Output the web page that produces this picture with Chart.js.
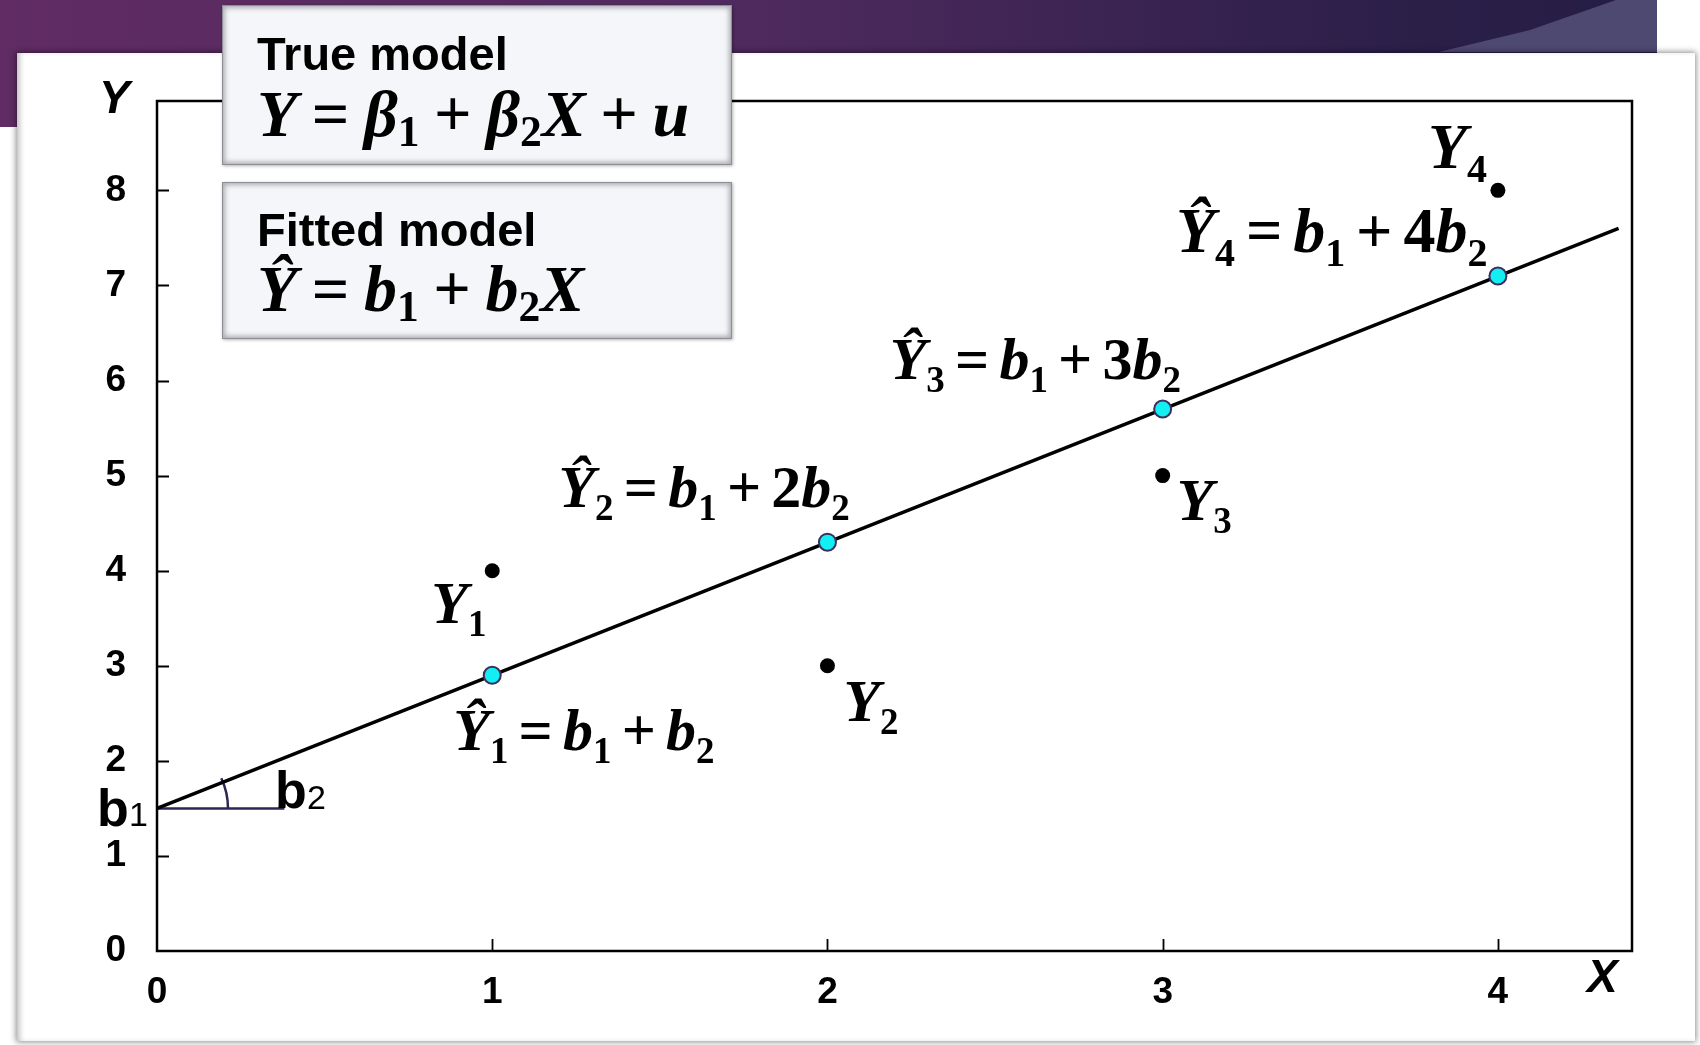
<!DOCTYPE html>
<html>
<head>
<meta charset="utf-8">
<title>Fitted regression line</title>
<script src="https://cdn.jsdelivr.net/npm/chart.js@4.4.0/dist/chart.umd.min.js"></script>
<style>
  html, body { margin: 0; padding: 0; width: 1700px; height: 1045px; overflow: hidden; background: #fff; }
  #band { position: absolute; left: 0; top: 0; width: 1657px; height: 127px;
          background: linear-gradient(90deg, #602c63 0%, #4f2a5e 45%, #2b1f48 85%, #251d44 100%); }
  #wedge { position: absolute; left: 1420px; top: 0; width: 237px; height: 52px; background: #4e4970;
           clip-path: polygon(19px 52px, 237px 52px, 237px 0, 196px 0, 110px 30px); }
  #panel { position: absolute; left: 17px; top: 53px; width: 1678px; height: 988px; background: #fff;
           box-shadow: 0 0 6px 1px rgba(0,0,0,0.45), inset 5px 0 6px -3px rgba(0,0,0,0.3); }
  #chart { position: absolute; left: 0; top: 0; }
  .box { position: absolute; left: 222px; width: 510px; background: #f5f6f9; box-sizing: border-box;
         border: 1px solid #8d8f95;
         box-shadow: inset 0 0 5px 2px rgba(110,112,120,0.55), 1px 1px 3px rgba(0,0,0,0.3); }
  .txt { position: absolute; left: 34px; line-height: 1; white-space: nowrap; color: #000; }
  .head { font: bold 47px "Liberation Sans", Arial, sans-serif; }
  .eq { font: bold italic 66px "Liberation Serif", "Times New Roman", serif; }
  .eq .up { font-style: normal; }
  .eq .sub { font-style: normal; font-size: 0.66em; vertical-align: -0.24em; line-height: 1; }
  .eq .op { font-style: normal; padding: 0 0.22em; }
</style>
</head>
<body>
<div id="band"></div>
<div id="wedge"></div>
<div id="panel"></div>
<canvas id="chart" width="1700" height="1045"></canvas>
<div class="box" style="top:5px; height:160px;">
  <div class="txt head" style="top:20px;">True model</div>
  <div class="txt eq" id="trueEq" style="top:70px;"></div>
</div>
<div class="box" style="top:182px; height:157px;">
  <div class="txt head" style="top:19px;">Fitted model</div>
  <div class="txt eq" id="fitEq" style="top:68px;"></div>
</div>
<script>
// axis ticks
const xTicks = [0, 1, 2, 3, 4];
const yTicks = [0, 1, 2, 3, 4, 5, 6, 7, 8];

// observations
const xObs = [1, 2, 3, 4];
const yObs = [4, 3, 5, 8];

// fitted values on the regression line
const yFitted = [2.9, 4.3, 5.7, 7.1];

// regression line: intercept b1 and the far end of the drawn segment
const b1 = 1.5;
const lineX = [0, 4.36];
const lineY = [1.5, 7.6];
const slopeMarkX = [0, 0.38];

// equation text, "_" marks a subscript
const trueModel = 'Y = β_1 + β_2X + u';
const fittedModel = 'Ŷ = b_1 + b_2X';
const fittedLabels = ['Ŷ_1 = b_1 + b_2', 'Ŷ_2 = b_1 + 2b_2', 'Ŷ_3 = b_1 + 3b_2', 'Ŷ_4 = b_1 + 4b_2'];
const obsLabels = ['Y_1', 'Y_2', 'Y_3', 'Y_4'];

// label placement relative to their points: [dx, dy, font size]
const fittedPlace = [[-39, 75, 60], [-269, -35, 60], [-273, -30, 60], [-322, -24, 64]];
const obsPlace = [[-61, 52, 60], [16, 55, 60], [14, 44, 60], [-70, -22, 64]];

const serif = '"Liberation Serif", "Times New Roman", serif';
const sans = '"Liberation Sans", Arial, sans-serif';

function tokens(s) {
  const out = [];
  for (let i = 0; i < s.length; i++) {
    const c = s[i];
    if (c === ' ') continue;
    if (c === '_') { out.push(['sub', s[++i]]); continue; }
    if (c === '=' || c === '+') out.push(['op', c]);
    else if (/[0-9]/.test(c)) out.push(['up', c]);
    else out.push(['it', c]);
  }
  return out;
}

function toHtml(s) {
  return tokens(s).map(([k, c]) => k === 'it' ? c : `<span class="${k}">${c}</span>`).join('');
}

document.getElementById('trueEq').innerHTML = toHtml(trueModel);
document.getElementById('fitEq').innerHTML = toHtml(fittedModel);

function drawEq(ctx, s, x, y, size) {
  let cx = x;
  tokens(s).forEach(([k, c]) => {
    let font = `bold italic ${size}px ${serif}`, dy = 0, pad = 0;
    if (k === 'up') font = `bold ${size}px ${serif}`;
    if (k === 'op') { font = `bold ${size}px ${serif}`; pad = size * 0.17; }
    if (k === 'sub') { font = `bold ${Math.round(size * 0.62)}px ${serif}`; dy = size * 0.22; }
    ctx.font = font;
    cx += pad;
    ctx.fillText(c, cx, y + dy);
    cx += ctx.measureText(c).width + pad;
  });
}

const decor = {
  id: 'decor',
  beforeDatasetsDraw(chart) {
    const { ctx, chartArea: a, scales: { x, y } } = chart;
    ctx.save();
    ctx.strokeStyle = '#000';
    ctx.lineWidth = 2.5;
    ctx.strokeRect(a.left, a.top, a.right - a.left, a.bottom - a.top);
    ctx.lineWidth = 1.8;
    ctx.beginPath();
    yTicks.slice(1).forEach(v => {
      const py = Math.round(y.getPixelForValue(v)) + 0.5;
      ctx.moveTo(a.left, py); ctx.lineTo(a.left + 12, py);
    });
    xTicks.slice(1).forEach(v => {
      const px = Math.round(x.getPixelForValue(v)) + 0.5;
      ctx.moveTo(px, a.bottom); ctx.lineTo(px, a.bottom - 12);
    });
    ctx.stroke();

    // slope angle arc at the intercept
    const ox = x.getPixelForValue(0), oy = y.getPixelForValue(b1);
    const ex = x.getPixelForValue(lineX[1]), ey = y.getPixelForValue(lineY[1]);
    const ang = Math.atan2(oy - ey, ex - ox);
    ctx.strokeStyle = '#2c2650';
    ctx.lineWidth = 2.5;
    ctx.beginPath();
    ctx.arc(ox, oy, 71, -ang - 0.06, 0);
    ctx.stroke();
    ctx.restore();
  },
  afterDatasetsDraw(chart) {
    const { ctx, chartArea: a, scales: { x, y } } = chart;
    ctx.save();
    ctx.fillStyle = '#000';
    ctx.textBaseline = 'alphabetic';
    ctx.textAlign = 'left';

    // axis titles
    ctx.font = `italic bold 46px ${sans}`;
    ctx.fillText('Y', a.left - 58, a.top + 12);
    ctx.fillText('X', a.right - 45, a.bottom + 41);

    // intercept and slope marks
    const oy = y.getPixelForValue(b1);
    ctx.font = `bold 52px ${sans}`;
    ctx.fillText('b', a.left - 60, oy + 18);
    ctx.fillText('b', a.left + 118, oy);
    ctx.font = `34px ${sans}`;
    ctx.fillText('1', a.left - 28, oy + 18);
    ctx.fillText('2', a.left + 150, oy + 1);

    fittedLabels.forEach((s, i) => {
      const px = x.getPixelForValue(xObs[i]), py = y.getPixelForValue(yFitted[i]);
      const [dx, dy, size] = fittedPlace[i];
      drawEq(ctx, s, px + dx, py + dy, size);
    });
    obsLabels.forEach((s, i) => {
      const px = x.getPixelForValue(xObs[i]), py = y.getPixelForValue(yObs[i]);
      const [dx, dy, size] = obsPlace[i];
      drawEq(ctx, s, px + dx, py + dy, size);
    });
    ctx.restore();
  }
};

const tickFont = { family: sans, weight: 'bold', size: 37 };

new Chart(document.getElementById('chart'), {
  type: 'scatter',
  data: {
    datasets: [
      {
        type: 'line',
        data: lineX.map((v, i) => ({ x: v, y: lineY[i] })),
        borderColor: '#000',
        borderWidth: 3.5,
        pointRadius: 0,
        order: 3
      },
      {
        type: 'line',
        data: slopeMarkX.map(v => ({ x: v, y: b1 })),
        borderColor: '#2c2650',
        borderWidth: 2.5,
        pointRadius: 0,
        order: 4
      },
      {
        data: xObs.map((v, i) => ({ x: v, y: yFitted[i] })),
        backgroundColor: '#12eef2',
        borderColor: '#3b2f5e',
        borderWidth: 2,
        pointRadius: 8.5,
        order: 1
      },
      {
        data: xObs.map((v, i) => ({ x: v, y: yObs[i] })),
        backgroundColor: '#000',
        borderColor: '#000',
        borderWidth: 0,
        pointRadius: 7.5,
        order: 2
      }
    ]
  },
  options: {
    responsive: false,
    animation: false,
    devicePixelRatio: 1,
    layout: { padding: { left: 0, top: 101, right: 68, bottom: 0 } },
    plugins: { legend: { display: false }, tooltip: { enabled: false } },
    scales: {
      x: {
        type: 'linear', min: 0, max: 4.4,
        grid: { display: false, drawTicks: false },
        border: { display: false },
        afterBuildTicks: s => { s.ticks = xTicks.map(v => ({ value: v })); },
        afterFit: s => { s.height = 94; },
        ticks: { font: tickFont, color: '#000', padding: 20, maxRotation: 0 }
      },
      y: {
        type: 'linear', min: 0, max: 8.94,
        grid: { display: false, drawTicks: false },
        border: { display: false },
        afterBuildTicks: s => { s.ticks = yTicks.map(v => ({ value: v })); },
        afterFit: s => { s.width = 157; },
        ticks: { font: tickFont, color: '#000', padding: 31 }
      }
    }
  },
  plugins: [decor]
});
</script>
</body>
</html>
